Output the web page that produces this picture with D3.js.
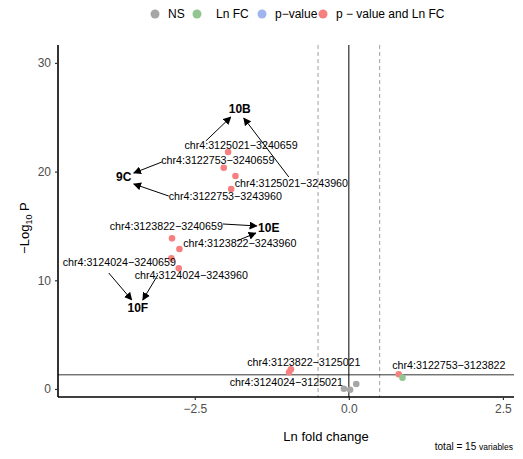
<!DOCTYPE html>
<html>
<head>
<meta charset="utf-8">
<script src="https://cdn.jsdelivr.net/npm/d3@7"></script>
<style>
  body { margin: 0; background: #fff; }
  text { font-family: "Liberation Sans", Arial, sans-serif; }
</style>
</head>
<body>
<script>
// volcano data: ln fold change, -log10 p, group
var pointX = [-1.96, -2.03, -1.84, -1.91, -2.87, -2.75, -2.88, -2.76, -0.94, -0.97, 0.81, 0.87, -0.08, 0.02, 0.12];
var pointY = [21.8, 20.36, 19.6, 18.4, 13.86, 12.88, 12.02, 11.1, 1.81, 1.53, 1.35, 1.04, 0.02, -0.08, 0.46];
var pointGroup = ['both', 'both', 'both', 'both', 'both', 'both', 'both', 'both', 'both', 'both', 'both', 'fc', 'ns', 'ns', 'ns'];

var legendKeys = ['ns', 'fc', 'p', 'both'];
var legendNames = ['NS', 'Ln FC', 'p\u2212value', 'p \u2212 value and  Ln FC'];

var labelText = ['chr4:3125021\u22123240659', 'chr4:3122753\u22123240659', 'chr4:3125021\u22123243960', 'chr4:3122753\u22123243960',
  'chr4:3123822\u22123240659', 'chr4:3123822\u22123243960', 'chr4:3124024\u22123240659', 'chr4:3124024\u22123243960',
  'chr4:3123822\u22123125021', 'chr4:3124024\u22123125021', 'chr4:3122753\u22123123822'];
var labelX = [-1.75, -2.127, -0.933, -2.005, -2.963, -1.77, -3.726, -2.557, -0.73, -1.015, 1.623];
var labelY = [22.45, 21.0, 18.95, 17.69, 15.0, 13.43, 11.62, 10.42, 2.42, 0.64, 2.21];

var groupText = ['10B', '9C', '10E', '10F'];
var groupX = [-1.77, -3.653, -1.3, -3.425];
var groupY = [25.76, 19.5, 14.81, 7.45];

var arrowX1 = [-2.321, -0.974, -3.036, -2.922, -2.045, -1.818, -3.896, -3.10];
var arrowY1 = [22.82, 19.5, 20.88, 17.75, 15.18, 13.62, 10.67, 10.49];
var arrowX2 = [-1.916, -1.705, -3.49, -3.49, -1.494, -1.51, -3.523, -3.344];
var arrowY2 = [25.02, 24.93, 19.87, 18.86, 15.0, 14.35, 8.19, 8.19];

var xTicks = [-2.5, 0, 2.5];
var yTicks = [0, 10, 20, 30];

var colors = {ns: '#a6a6a6', fc: '#91c591', p: '#a0b4f0', both: '#f68080'};

var margin = {top: 45, right: 9, bottom: 62, left: 58},
    w = 523 - margin.left - margin.right,
    h = 459 - margin.top - margin.bottom;

var root = d3.select('body').append('svg')
    .attr('width', 523)
    .attr('height', 459);

var svg = root.append('g')
    .attr('transform', 'translate(' + margin.left + ',' + margin.top + ')');

var xScale = d3.scaleLinear().domain([-4.72, 2.68]).range([0, w]);
var yScale = d3.scaleLinear().domain([-0.74, 31.65]).range([h, 0]);

svg.append('defs').append('marker')
    .attr('id', 'arr')
    .attr('viewBox', '0 0 10 10')
    .attr('refX', 9).attr('refY', 5)
    .attr('markerWidth', 8).attr('markerHeight', 8)
    .attr('markerUnits', 'userSpaceOnUse')
    .attr('orient', 'auto')
  .append('path')
    .attr('d', 'M0,0 L10,5 L0,10 Z')
    .attr('fill', '#000');

// cutoff lines
[-0.5, 0.5].forEach(function (v) {
  svg.append('line')
    .attr('x1', xScale(v)).attr('x2', xScale(v))
    .attr('y1', 0).attr('y2', h)
    .attr('stroke', '#a0a0a0').attr('stroke-width', 1)
    .attr('stroke-dasharray', '4,3');
});
svg.append('line')
  .attr('x1', xScale(0)).attr('x2', xScale(0))
  .attr('y1', 0).attr('y2', h)
  .attr('stroke', '#000').attr('stroke-width', 1);
svg.append('line')
  .attr('x1', 0).attr('x2', w)
  .attr('y1', yScale(-Math.log10(0.05))).attr('y2', yScale(-Math.log10(0.05)))
  .attr('stroke', '#000').attr('stroke-width', 0.8);

// points
svg.selectAll('circle.pt')
  .data(d3.range(pointX.length))
  .enter()
  .append('circle')
  .attr('class', 'pt')
  .attr('cx', function (i) { return xScale(pointX[i]); })
  .attr('cy', function (i) { return yScale(pointY[i]); })
  .attr('r', 3.3)
  .attr('fill', function (i) { return colors[pointGroup[i]]; });

// arrows
svg.selectAll('line.arrow')
  .data(d3.range(arrowX1.length))
  .enter()
  .append('line')
  .attr('class', 'arrow')
  .attr('x1', function (i) { return xScale(arrowX1[i]); })
  .attr('y1', function (i) { return yScale(arrowY1[i]); })
  .attr('x2', function (i) { return xScale(arrowX2[i]); })
  .attr('y2', function (i) { return yScale(arrowY2[i]); })
  .attr('stroke', '#000').attr('stroke-width', 1)
  .attr('marker-end', 'url(#arr)');

// point labels
svg.selectAll('text.lab')
  .data(d3.range(labelText.length))
  .enter()
  .append('text')
  .attr('class', 'lab')
  .attr('x', function (i) { return xScale(labelX[i]); })
  .attr('y', function (i) { return yScale(labelY[i]); })
  .attr('text-anchor', 'middle')
  .attr('dy', '0.35em')
  .attr('font-size', '10.7px')
  .attr('fill', '#000')
  .text(function (i) { return labelText[i]; });

svg.selectAll('text.grp')
  .data(d3.range(groupText.length))
  .enter()
  .append('text')
  .attr('class', 'grp')
  .attr('x', function (i) { return xScale(groupX[i]); })
  .attr('y', function (i) { return yScale(groupY[i]); })
  .attr('text-anchor', 'middle')
  .attr('dy', '0.35em')
  .attr('font-size', '12px')
  .attr('font-weight', 'bold')
  .text(function (i) { return groupText[i]; });

// axes
var xAxis = d3.axisBottom(xScale).tickValues(xTicks).tickSize(3).tickPadding(4)
  .tickFormat(function (d) { return d3.format('.1f')(d).replace('-', '\u2212'); });
var yAxis = d3.axisLeft(yScale).tickValues(yTicks).tickSize(3).tickPadding(4);

var gx = svg.append('g')
  .attr('transform', 'translate(0,' + h + ')')
  .call(xAxis);
var gy = svg.append('g').call(yAxis);

[gx, gy].forEach(function (g) {
  g.select('.domain').attr('stroke', '#000').attr('stroke-width', 1.6);
  g.selectAll('.tick line').attr('stroke', '#333').attr('stroke-width', 1.2);
  g.selectAll('.tick text')
    .attr('font-size', '12px')
    .attr('fill', '#4d4d4d')
    .attr('font-family', '"Liberation Sans", Arial, sans-serif');
});
gx.select('.domain').attr('d', 'M0,0H' + w);
gy.select('.domain').attr('d', 'M0,' + h + 'V0');

// axis titles
root.append('text')
  .attr('x', 326).attr('y', 441)
  .attr('text-anchor', 'middle')
  .attr('font-size', '13px')
  .text('Ln fold change');

var yt = root.append('text')
  .attr('transform', 'translate(29,228) rotate(-90)')
  .attr('text-anchor', 'middle')
  .attr('font-size', '13px');
yt.append('tspan').text('\u2212Log');
yt.append('tspan').attr('font-size', '9px').attr('dy', 3).text('10');
yt.append('tspan').attr('dy', -3).text(' P');

// caption
var cap = root.append('text')
  .attr('x', 513).attr('y', 450)
  .attr('text-anchor', 'end')
  .attr('font-size', '10px');
cap.append('tspan').text('total = 15 ');
cap.append('tspan').attr('font-size', '8.5px').text('variables');

// legend
var legX = [155, 197, 262, 323];
var leg = root.append('g');
legendKeys.forEach(function (k, i) {
  leg.append('circle')
    .attr('cx', legX[i]).attr('cy', 14).attr('r', 4.5)
    .attr('fill', colors[k]);
  leg.append('text')
    .attr('x', legX[i] + (i === 1 ? 19 : 13)).attr('y', 14)
    .attr('dy', '0.35em')
    .attr('font-size', '12px')
    .text(legendNames[i]);
});
</script>
</body>
</html>
